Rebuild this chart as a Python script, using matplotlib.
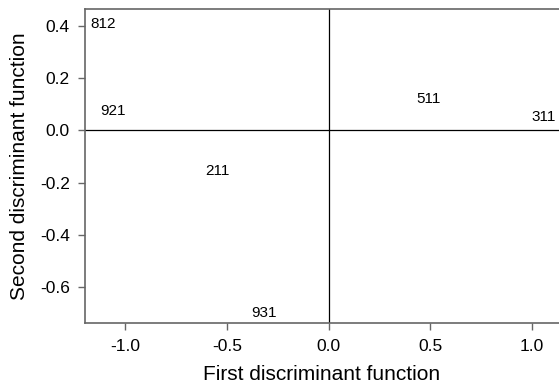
import numpy as np
import matplotlib.pyplot as plt

plt.rcParams['font.family'] = ['Liberation Sans', 'DejaVu Sans']

# group codes and discriminant scores
codes = ['812', '921', '211', '931', '511', '311']
ld1 = [-1.108, -1.059, -0.545, -0.319, 0.49, 1.056]
ld2 = [0.406, 0.075, -0.154, -0.697, 0.12, 0.051]

xticks = [-1.0, -0.5, 0.0, 0.5, 1.0]
yticks = [0.4, 0.2, 0.0, -0.2, -0.4, -0.6]

fig = plt.figure(figsize=(5.59, 3.88), dpi=100)
ax = fig.add_axes([85/559, 65.3/388, 474/559, 313.7/388])

for c, x, y in zip(codes, ld1, ld2):
    ax.text(x, y, c, ha='center', va='center', fontsize=11)

ax.axhline(0, color='black', lw=0.9)
ax.axvline(0, color='black', lw=0.9)

ax.set_xlim(-1.197, 1.132)
ax.set_ylim(-0.735, 0.464)
ax.set_xticks(xticks)
ax.set_xticklabels([f"{t:.1f}" for t in xticks])
ax.set_yticks(yticks)
ax.set_yticklabels([f"{t:.1f}" for t in yticks])

for s in ax.spines.values():
    s.set_color('#666666')
    s.set_linewidth(1.2)
ax.spines['right'].set_visible(False)
ax.tick_params(direction='out', length=5, width=1, color='#666666', labelsize=12.5)
ax.tick_params(axis='x', pad=7)
ax.tick_params(axis='y', pad=6)

ax.set_xlabel('First discriminant function', fontsize=15, labelpad=8)
ax.set_ylabel('Second discriminant function', fontsize=15, labelpad=8)

fig.savefig('out.png', dpi=100)
